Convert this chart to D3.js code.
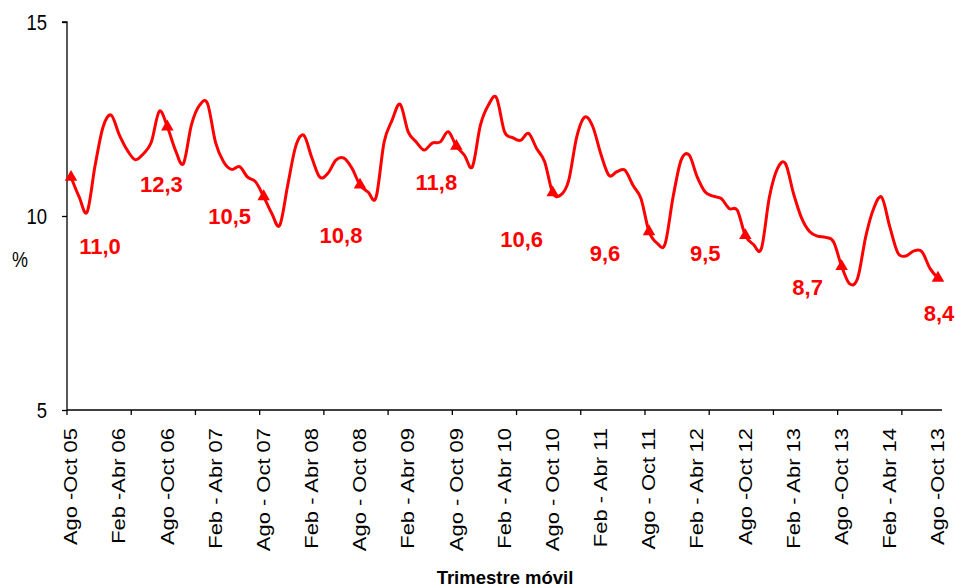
<!DOCTYPE html>
<html>
<head>
<meta charset="utf-8">
<script src="https://cdn.jsdelivr.net/npm/d3@7"></script>
<style>
  html, body { margin: 0; padding: 0; background: #fff; }
  svg { display: block; font-family: "Liberation Sans", Arial, sans-serif; }
</style>
</head>
<body>
<svg id="chart" width="956" height="588"></svg>
<script>
// ---- data ----
const values = [
  11.0, 10.5, 10.1, 11.3, 12.3, 12.6, 12.1, 11.7, 11.45, 11.6, 11.9, 12.7,
  12.3, 11.7, 11.35, 12.35, 12.85, 12.9, 11.9, 11.4, 11.2, 11.27, 11.0, 10.88,
  10.5, 10.07, 9.76, 10.8, 11.8, 12.08, 11.5, 11.0, 11.1, 11.44, 11.49, 11.23,
  10.8, 10.62, 10.48, 11.9, 12.47, 12.88, 12.17, 11.91, 11.7, 11.88, 11.91, 12.17,
  11.8, 11.57, 11.27, 12.34, 12.86, 13.05, 12.17, 12.02, 11.95, 12.13, 11.74, 11.4,
  10.6, 10.54, 10.92, 12.04, 12.55, 12.3, 11.6, 11.05, 11.14, 11.18, 10.79, 10.45,
  9.6, 9.3, 9.28, 10.49, 11.44, 11.57, 11.01, 10.62, 10.51, 10.45, 10.19, 10.15,
  9.5, 9.27, 9.16, 10.49, 11.22, 11.35, 10.58, 9.95, 9.6, 9.48, 9.45, 9.33,
  8.7, 8.25, 8.4, 9.47, 10.2, 10.48, 9.72, 9.05, 8.97, 9.1, 9.08, 8.65,
  8.4
];
const tickLabels = [
  "Ago -Oct 05", "Feb -Abr 06", "Ago -Oct 06", "Feb - Abr 07", "Ago - Oct 07",
  "Feb - Abr 08", "Ago - Oct 08", "Feb - Abr 09", "Ago - Oct 09", "Feb - Abr 10",
  "Ago - Oct 10", "Feb - Abr 11", "Ago - Oct 11", "Feb - Abr 12", "Ago -Oct 12",
  "Feb - Abr 13", "Ago -Oct 13", "Feb - Abr 14", "Ago -Oct 13"
];
const yTicks = [5, 10, 15];
const labelEvery = 6;      // categories between x labels
const tickEvery = 8;       // categories between x tick marks
const markerEvery = 12;    // categories between highlighted points
// annotation placement (text centre offset from its point, px)
const annotOffsets = [[29,69],[-6,58],[-34,20],[-19,50],[-20,36],[-31,47],[-44,22],[-40,18],[-34,21],[1,35]];

(function () {
// ---- layout ----
const svg = d3.select("#chart");
const mLeft = 67, mRight = 942, mTop = 22, mBottom = 410;
const n = values.length;
const x = d3.scaleLinear().domain([-0.5, n - 0.5]).range([mLeft, mRight]);
const y = d3.scaleLinear().domain([5, 15]).range([mBottom, mTop]);
const red = "#FF0000";

// y axis
const yAxis = d3.axisLeft(y).tickValues(yTicks).tickSize(5).tickFormat(d3.format("d"));
const gy = svg.append("g").attr("transform", `translate(${mLeft},0)`).call(yAxis);
gy.select(".domain").attr("stroke", "#000").attr("stroke-width", 1.3).attr("d", `M-5,${mTop}H0V${mBottom}`);
gy.selectAll(".tick line").attr("stroke", "#000").attr("stroke-width", 1.3);
gy.selectAll(".tick text")
  .attr("fill", "#000").attr("font-size", 18.5).attr("x", null)
  .attr("text-anchor", "end")
  .attr("transform", "translate(-20,0) scale(1,1.2)")
  .attr("dy", "0.35em");
gy.attr("font-family", null);

// x axis line
svg.append("line").attr("x1", mLeft).attr("x2", mRight).attr("y1", mBottom).attr("y2", mBottom)
  .attr("stroke", "#000").attr("stroke-width", 1.3);
// x tick marks at category boundaries
const tickIdx = d3.range(0, n, tickEvery);
svg.append("g").selectAll("line").data(tickIdx).join("line")
  .attr("x1", d => x(d - 0.5)).attr("x2", d => x(d - 0.5))
  .attr("y1", mBottom).attr("y2", mBottom + 5)
  .attr("stroke", "#000").attr("stroke-width", 1.3);
// x labels
svg.append("g").selectAll("text").data(tickLabels).join("text")
  .attr("transform", (d, i) => `translate(${x(i * labelEvery)},428) scale(1,1.22) rotate(-90)`)
  .attr("text-anchor", "end").attr("dy", "0.35em")
  .attr("font-size", 18).attr("fill", "#000")
  .text(d => d);

// axis titles
svg.append("text").attr("transform", "translate(20,259) scale(1,1.2)")
  .attr("text-anchor", "middle").attr("dy", "0.35em").attr("font-size", 18).text("%");
svg.append("text").attr("transform", "translate(505,577.5)")
  .attr("text-anchor", "middle").attr("dy", "0.35em").attr("font-size", 18.5)
  .attr("font-weight", "bold").text("Trimestre móvil");

// line
const line = d3.line().x((d, i) => x(i)).y(d => y(d)).curve(d3.curveCardinal.tension(0));
svg.append("path").datum(values).attr("d", line)
  .attr("fill", "none").attr("stroke", red).attr("stroke-width", 3).attr("stroke-linejoin", "round");

// markers & annotations
const marks = d3.range(0, n, markerEvery);
svg.append("g").selectAll("path").data(marks).join("path")
  .attr("transform", i => `translate(${x(i)},${y(values[i])})`)
  .attr("d", d3.symbol().type(d3.symbolTriangle).size(68))
  .attr("fill", red);
const fmt = v => d3.format(".1f")(v).replace(".", ",");
svg.append("g").selectAll("text").data(marks).join("text")
  .attr("x", (i, k) => x(i) + annotOffsets[k][0])
  .attr("y", (i, k) => y(values[i]) + annotOffsets[k][1])
  .attr("dy", "0.35em").attr("text-anchor", "middle")
  .attr("font-size", 22).attr("font-weight", "bold").attr("fill", red)
  .text(i => fmt(values[i]));
})();
</script>
</body>
</html>
